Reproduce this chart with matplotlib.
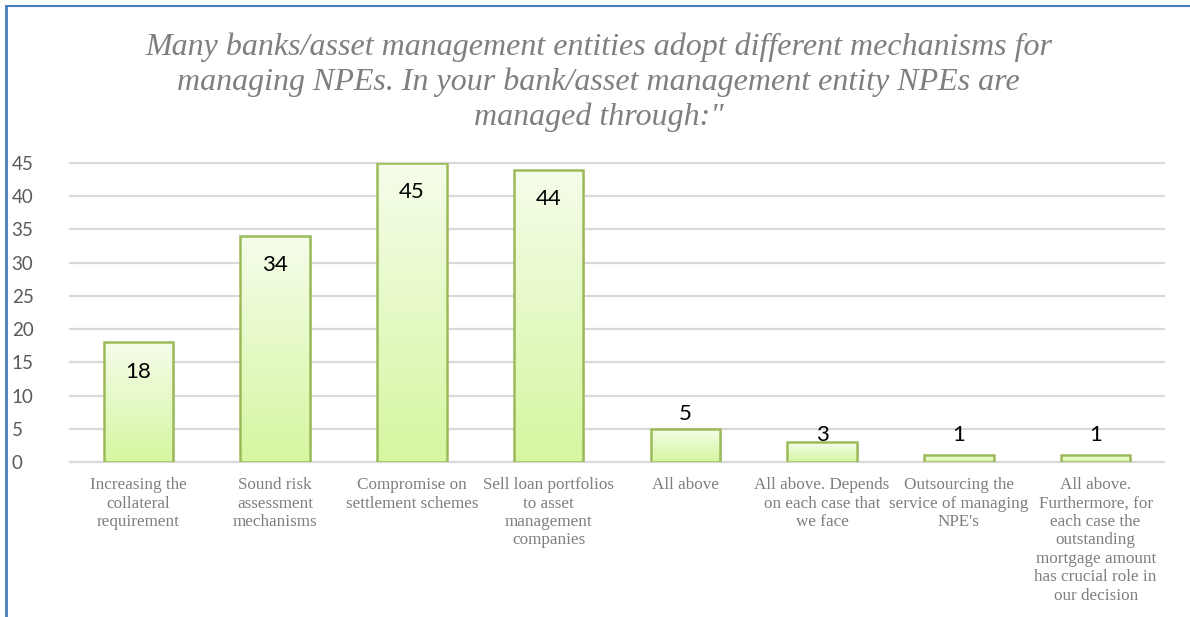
import numpy as np
import matplotlib
matplotlib.use("Agg")
import matplotlib.pyplot as plt
from matplotlib.lines import Line2D
from matplotlib.colors import LinearSegmentedColormap

# Survey answers: how NPEs are managed
categories = [
    "Increasing the\ncollateral\nrequirement",
    "Sound risk\nassessment\nmechanisms",
    "Compromise on\nsettlement schemes",
    "Sell loan portfolios\nto asset\nmanagement\ncompanies",
    "All above",
    "All above. Depends\non each case that\nwe face",
    "Outsourcing the\nservice of managing\nNPE's",
    "All above.\nFurthermore, for\neach case the\noutstanding\nmortgage amount\nhas crucial role in\nour decision",
]
counts = [18, 34, 45, 44, 5, 3, 1, 1]
y_ticks = [0, 5, 10, 15, 20, 25, 30, 35, 40, 45]

title = ("Many banks/asset management entities adopt different mechanisms for\n"
         "managing NPEs. In your bank/asset management entity NPEs are\n"
         "managed through:\"")

W, H = 1190, 617
fig = plt.figure(figsize=(W / 100, H / 100), dpi=100)
fig.patch.set_facecolor("white")

ax = fig.add_axes([70 / W, 1 - 462 / H, (1164 - 70) / W, (462 - 163) / H])
ax.set_facecolor("white")

# gridlines
for t in y_ticks:
    ax.axhline(t, color="#d9d9d9", lw=1.6, zorder=0, clip_on=False)
for s in ax.spines.values():
    s.set_visible(False)

x = np.arange(len(counts))
bar_w = 0.51
green = LinearSegmentedColormap.from_list("g", ["#d6f6a0", "#f5fdea"])
grad = np.linspace(0, 1, 256).reshape(-1, 1)

bars = ax.bar(x, counts, width=bar_w, facecolor="none", edgecolor="#9bbb59",
              linewidth=1.8, zorder=3)
for b in bars:
    x0, y0 = b.get_x(), b.get_y()
    w, h = b.get_width(), b.get_height()
    # soft shadow
    ax.bar(x0 + w / 2 + 0.012, h, width=w, bottom=-0.25, color="#c8c8c8",
           alpha=0.5, zorder=1, linewidth=0)
    im = ax.imshow(grad, extent=[x0, x0 + w, y0, y0 + h], origin="lower",
                   cmap=green, aspect="auto", zorder=2)
    im.set_clip_path(b)

ax.set_xlim(-0.5, len(counts) - 0.5)
ax.set_ylim(0, 45)

# value labels: inside the top of tall bars, above short ones
for xi, v in zip(x, counts):
    if v >= 10:
        ly = v - 4.4
    else:
        ly = v + 2.25 if v >= 5 else 4.0
    ax.text(xi, ly, str(v), ha="center", va="center",
            fontsize=16, family="Lato", color="black", zorder=5)

ax.set_yticks(y_ticks)
ax.set_yticklabels([str(t) for t in y_ticks], family="Lato", fontsize=13.5,
                   color="#595959")
ax.set_xticks(x)
ax.set_xticklabels(categories, family="Liberation Serif", fontsize=12.3,
                   color="#7f7f7f", va="top", linespacing=1.2)
ax.tick_params(axis="both", length=0)
ax.tick_params(axis="y", pad=42)
ax.tick_params(axis="x", pad=11)
for lbl in ax.get_yticklabels():
    lbl.set_horizontalalignment("left")

fig.text(0.503, 1 - 82 / H, title, ha="center", va="center",
         family="Liberation Serif", style="italic", fontsize=23,
         color="#7f7f7f", linespacing=1.25)

# frame border
fig.add_artist(Line2D([5.5 / W, 5.5 / W], [0, 1 - 6 / H], color="#4a7ebb",
                      lw=2, transform=fig.transFigure))
fig.add_artist(Line2D([5.5 / W, 1], [1 - 6 / H, 1 - 6 / H], color="#4a7ebb",
                      lw=1.5, transform=fig.transFigure))

fig.savefig("out.png", dpi=100, facecolor="white")
